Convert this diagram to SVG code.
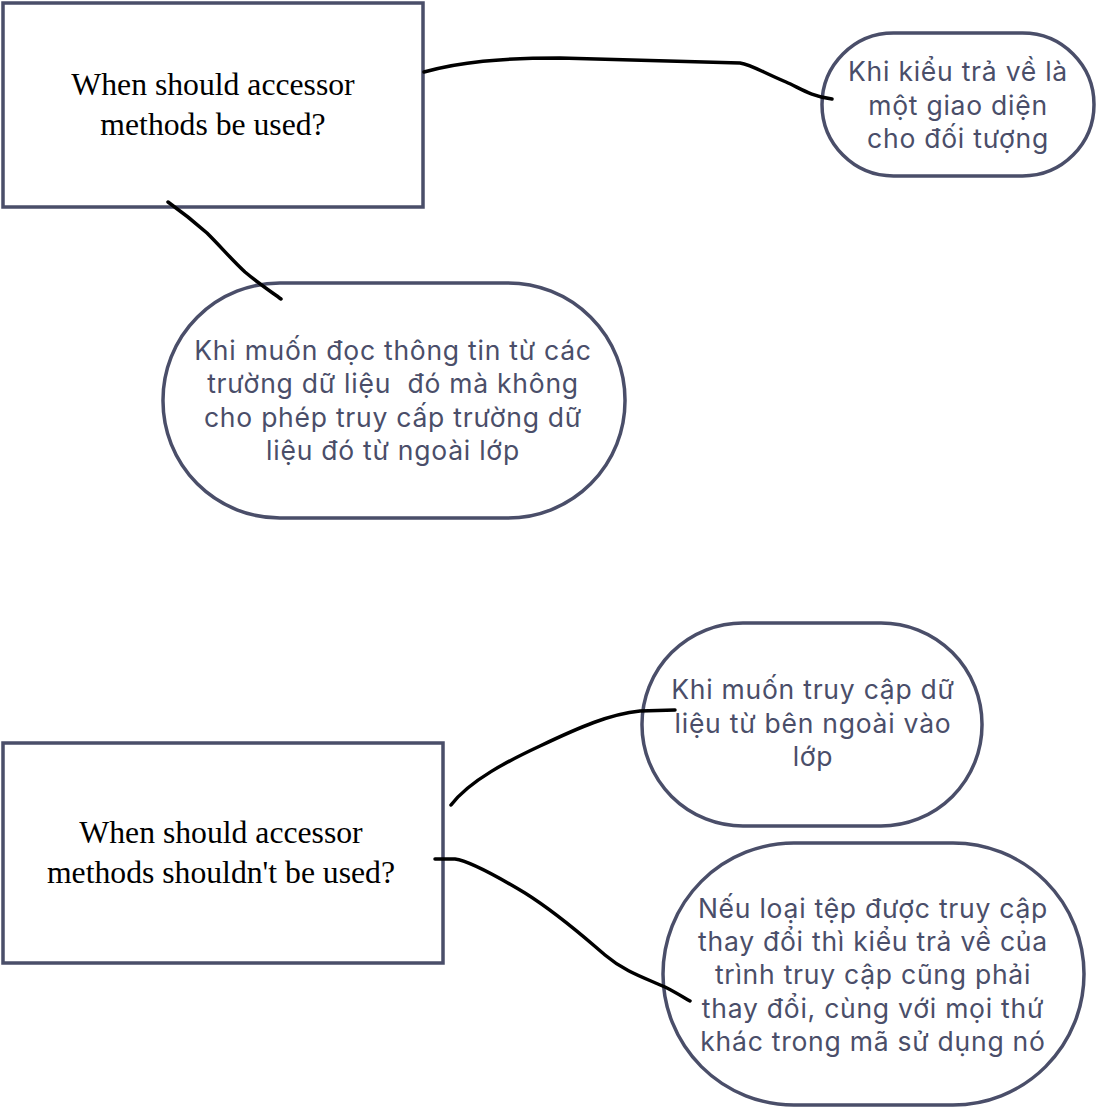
<svg xmlns="http://www.w3.org/2000/svg" width="1096" height="1108" viewBox="0 0 1096 1108">
<style>
.box{fill:#ffffff;stroke:#4a4e69;stroke-width:3.5}
.q{font-family:"Liberation Serif","Times New Roman",serif;font-size:31.7px;fill:#000000;text-anchor:middle}
.t{font-family:Inter,"Noto Sans",sans-serif;font-size:26.5px;letter-spacing:0.75px;fill:#4a4e69;text-anchor:middle}
.c{fill:none;stroke:#000000;stroke-width:3.5;stroke-linecap:round;stroke-linejoin:round}
</style>
<rect width="1096" height="1108" fill="#ffffff"/>
<g id="q1">
<rect class="box" x="3" y="3" width="420" height="204"/>
<text class="q" x="213" y="95">When should accessor</text>
<text class="q" x="213" y="135">methods be used?</text>
</g>
<g id="q2">
<rect class="box" x="3" y="743" width="440" height="220"/>
<text class="q" x="221" y="843">When should accessor</text>
<text class="q" x="221" y="883">methods shouldn't be used?</text>
</g>
<g id="a1">
<rect class="box" x="822" y="33" width="272" height="143" rx="71.5" ry="71.5"/>
<text class="t" x="958" y="81">Khi kiểu trả về là</text>
<text class="t" x="958" y="115">một giao diện</text>
<text class="t" x="958" y="148">cho đối tượng</text>
</g>
<g id="a2">
<rect class="box" x="163" y="283" width="462" height="235" rx="117" ry="117"/>
<text class="t" x="393" y="360">Khi muốn đọc thông tin từ các</text>
<text class="t" x="393" y="393" xml:space="preserve">trường dữ liệu  đó mà không</text>
<text class="t" x="393" y="427">cho phép truy cấp trường dữ</text>
<text class="t" x="393" y="460">liệu đó từ ngoài lớp</text>
</g>
<g id="a3">
<rect class="box" x="642" y="623" width="340" height="203" rx="101" ry="101"/>
<text class="t" x="813" y="699">Khi muốn truy cập dữ</text>
<text class="t" x="813" y="733">liệu từ bên ngoài vào</text>
<text class="t" x="813" y="766">lớp</text>
</g>
<g id="a4">
<rect class="box" x="663" y="843" width="421" height="262" rx="131" ry="131"/>
<text class="t" x="873" y="918">Nếu loại tệp được truy cập</text>
<text class="t" x="873" y="951">thay đổi thì kiểu trả về của</text>
<text class="t" x="873" y="984">trình truy cập cũng phải</text>
<text class="t" x="873" y="1018">thay đổi, cùng với mọi thứ</text>
<text class="t" x="873" y="1051">khác trong mã sử dụng nó</text>
</g>
<g id="connectors">
<path class="c" d="M424,72 C460,62 500,58 560,58 L740,63 C752,65 762,72 786,82 C800,88 810,96 832,99"/>
<path class="c" d="M168,202 C175,207 190,218 207,233 C222,248 232,260 245,272 C258,283 270,291 281,299"/>
<path class="c" d="M451,805 C470,780 510,760 540,746 C580,727 610,714 640,711 L675,710"/>
<path class="c" d="M435,859 L455,859 C470,861 500,878 525,893 C560,915 585,938 605,955 C625,972 645,978 665,987 C675,992 683,997 690,1001"/>
</g>
</svg>
